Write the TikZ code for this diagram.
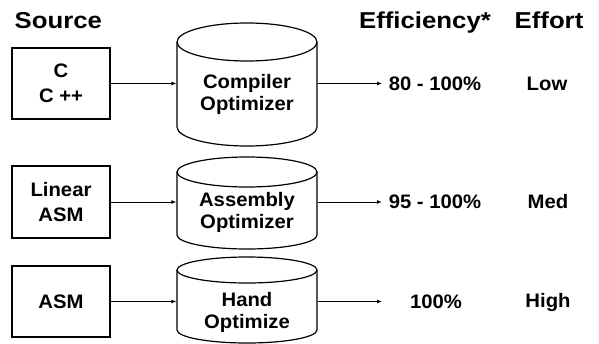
\documentclass[tikz,border=0pt]{standalone}
\usepackage{fontspec}
\setmainfont{Liberation Sans}
\newfontfamily\headfont{Liberation Sans}[FakeStretch=1.12]
\newfontfamily\cellfont{Liberation Sans}[FakeStretch=1.04]
\usetikzlibrary{arrows.meta}

\begin{document}
\begin{tikzpicture}[x=1pt,y=-1pt,line width=1.2pt,
  head/.style={font=\headfont\bfseries\fontsize{23}{26}\selectfont, inner sep=0pt},
  cell/.style={font=\cellfont\bfseries\fontsize{19.5}{22}\selectfont, align=center, inner sep=0pt},
  srcbox/.style={cell, draw, minimum width=98pt, minimum height=71pt, font=\cellfont\bfseries\fontsize{19.5}{25}\selectfont},
  cylbody/.style={cell, minimum width=140pt},
  arr/.style={-{Latex[length=5pt,width=4pt]}, line width=1pt}]
\useasboundingbox (0,0) rectangle (599,343);

\node[head, anchor=base west] (source) at (14,28) {Source};
\node[head, anchor=base] (eff) at (425,28) {Efficiency*};
\node[head, anchor=base] (effort) at (549,28) {Effort};

\node[srcbox] (c) at (61,83.5) {C\\C ++};
\node[srcbox, minimum height=72pt] (lasm) at (61,202) {Linear\\ASM};
\node[srcbox] (asm) at (61,301.5) {ASM};

\draw (177,42) -- (177,127) arc[start angle=180, end angle=360, x radius=70pt, y radius=19pt] -- (317,42);
\draw (247,42) ellipse [x radius=70pt, y radius=19pt];
\draw (177,172) -- (177,235) arc[start angle=180, end angle=360, x radius=70pt, y radius=14pt] -- (317,172);
\draw (247,172) ellipse [x radius=70pt, y radius=15pt];
\draw (177,270) -- (177,330) arc[start angle=180, end angle=360, x radius=70pt, y radius=13pt] -- (317,270);
\draw (247,270) ellipse [x radius=70pt, y radius=13pt];

\node[cylbody] (comp) at (247,94) {Compiler\\Optimizer};
\node[cylbody] (asmopt) at (247,212.5) {Assembly\\Optimizer};
\node[cylbody] (hand) at (247,312) {Hand\\Optimize};

\node[cell] (eff1) at (435,83.5) {80 - 100\%};
\node[cell] (eff2) at (435,202) {95 - 100\%};
\node[cell] (eff3) at (436,302) {100\%};
\node[cell] (low) at (547,83.5) {Low};
\node[cell] (med) at (548,202) {Med};
\node[cell] (high) at (548,302) {High};

\coordinate (tip1) at (382,83.5);
\coordinate (tip2) at (382,202);
\coordinate (tip3) at (382,301.5);

\draw[arr] (c) -- (c -| comp.west);
\draw[arr] (lasm) -- (lasm -| asmopt.west);
\draw[arr] (asm) -- (asm -| hand.west);
\draw[arr] (c -| comp.east) -- (tip1);
\draw[arr] (lasm -| asmopt.east) -- (tip2);
\draw[arr] (asm -| hand.east) -- (tip3);
\end{tikzpicture}
\end{document}
